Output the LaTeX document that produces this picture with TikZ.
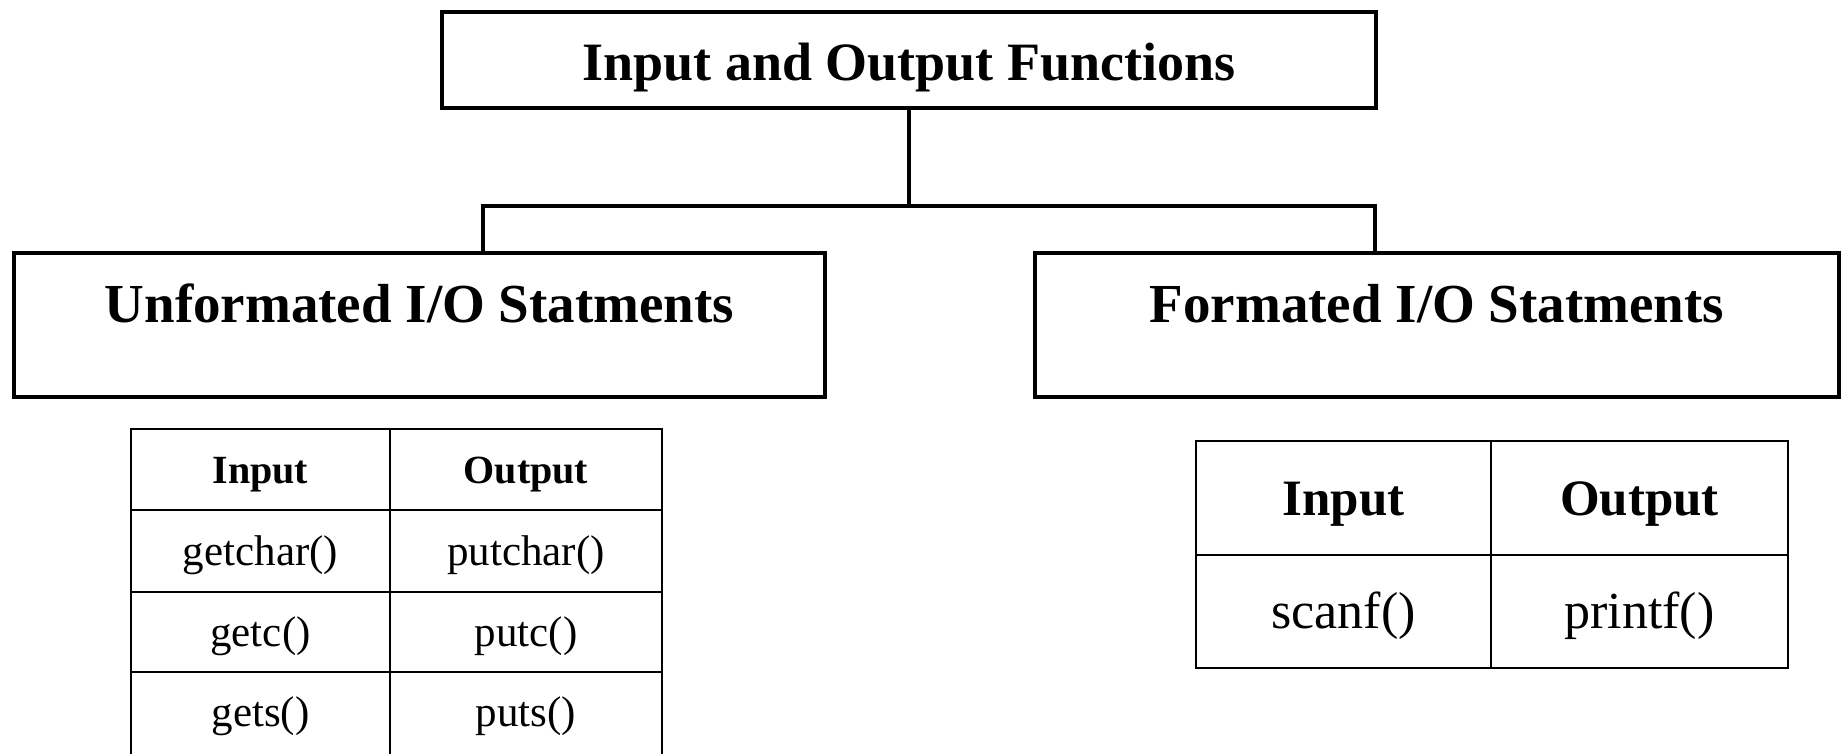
\documentclass[tikz,border=0pt]{standalone}
\usepackage{fontspec}
\setmainfont{Liberation Serif}
\begin{document}
\begin{tikzpicture}[x=1pt,y=-1pt,
  bigbox/.style={draw=black, line width=4pt, rectangle, inner sep=0pt},
  titlefont/.style={font=\bfseries\fontsize{54}{60}\selectfont},
  branchfont/.style={font=\bfseries\fontsize{55}{60}\selectfont},
  conn/.style={draw=black, line width=3.5pt},
  cell/.style={draw=black, line width=2pt, rectangle, inner sep=0pt},
  lhead/.style={cell, font=\bfseries\fontsize{40}{44}\selectfont, text height=28pt, text depth=0pt},
  lbody/.style={cell, font=\fontsize{43}{46}\selectfont, text height=28pt, text depth=0pt},
  rhead/.style={cell, font=\bfseries\fontsize{51}{56}\selectfont, text height=34pt, text depth=0pt},
  rbody/.style={cell, font=\fontsize{52}{56}\selectfont, text height=33pt, text depth=0pt}
]
\useasboundingbox (0,0) rectangle (1842,753);
\clip (0,0) rectangle (1842,753);
\fill[white] (0,0) rectangle (1842,753);

% top box
\node[bigbox, titlefont, minimum width=934pt, minimum height=96pt, text height=40pt, text depth=0pt] (top) at (909,60) {Input and Output Functions};

% branch boxes
\node[bigbox, branchfont, minimum width=811pt, minimum height=144pt, text height=37pt, text depth=43pt] (unf) at (419.5,325) {Unformated I/O Statments};
\node[bigbox, branchfont, minimum width=804pt, minimum height=144pt, text height=37pt, text depth=43pt] (fmt) at (1437,325) {Formated I/O Statments};

% connectors
\coordinate (barL) at (483,206);
\coordinate (barR) at (1375,206);
\draw[conn] (top.south) -- (top.south |- barL);
\draw[conn, line cap=rect] (unf.north -| barL) -- (barL) -- (barR) -- (fmt.north -| barR);

% left table
\node[lhead, minimum width=259pt, minimum height=81pt] (li) at (260.5,469.5) {Input};
\node[lhead, minimum width=272pt, minimum height=81pt] (lo) at (526,469.5) {Output};
\node[lbody, minimum width=259pt, minimum height=82pt] (l1a) at (260.5,551) {getchar()};
\node[lbody, minimum width=272pt, minimum height=82pt] (l1b) at (526,551) {putchar()};
\node[lbody, minimum width=259pt, minimum height=80pt] (l2a) at (260.5,632) {getc()};
\node[lbody, minimum width=272pt, minimum height=80pt] (l2b) at (526,632) {putc()};
\node[lbody, minimum width=259pt, minimum height=90pt, text height=18pt] (l3a) at (260.5,717) {gets()};
\node[lbody, minimum width=272pt, minimum height=90pt, text height=18pt] (l3b) at (526,717) {puts()};

% right table
\node[rhead, minimum width=295pt, minimum height=114pt] (ri) at (1343.5,498) {Input};
\node[rhead, minimum width=297pt, minimum height=114pt] (ro) at (1639.5,498) {Output};
\node[rbody, minimum width=295pt, minimum height=113pt] (r1a) at (1343.5,611.5) {scanf()};
\node[rbody, minimum width=297pt, minimum height=113pt] (r1b) at (1639.5,611.5) {printf()};
\end{tikzpicture}
\end{document}
